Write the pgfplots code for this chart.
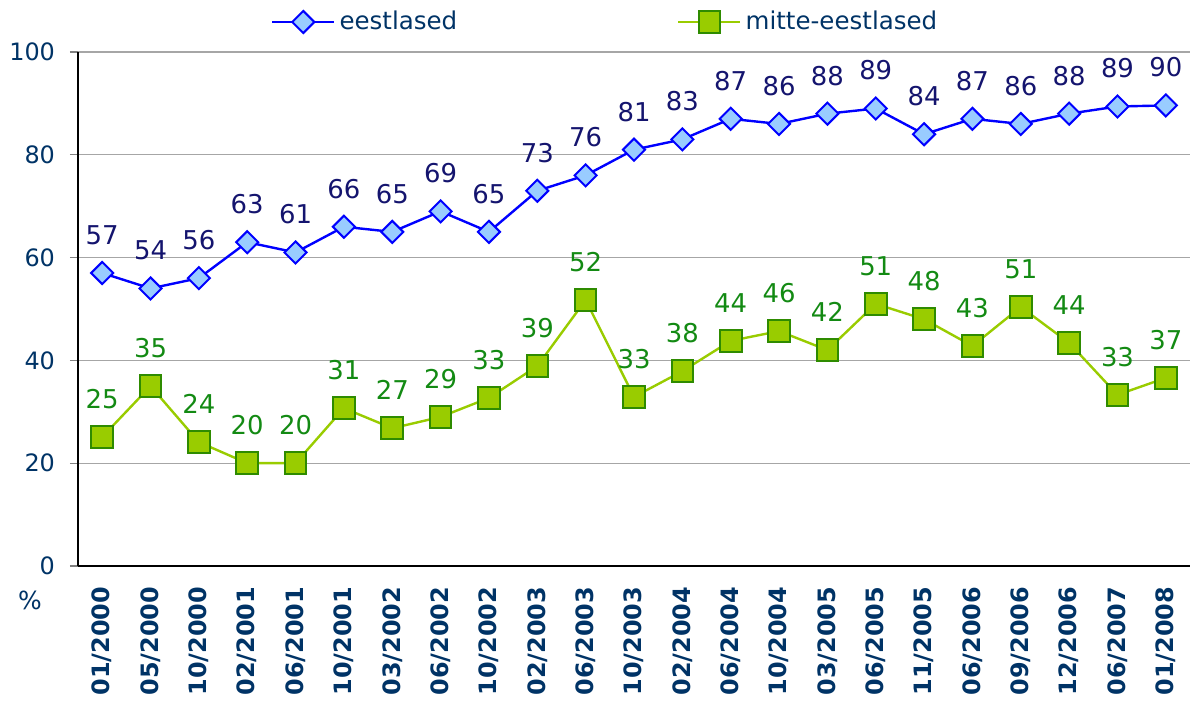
\documentclass[border=0pt]{standalone}
\usepackage{fontspec}
\setmainfont{DejaVu Sans}
\usepackage{pgfplots}
\pgfplotsset{compat=1.18}
\definecolor{txt}{HTML}{003366}
\definecolor{bline}{HTML}{0000FF}
\definecolor{bfill}{HTML}{99CCFF}
\definecolor{blab}{HTML}{14146E}
\definecolor{gline}{HTML}{99CC00}
\definecolor{gedge}{HTML}{2E8B00}
\definecolor{glab}{HTML}{138A13}
\definecolor{gridc}{HTML}{A6A6A6}

\begin{document}
\begin{tikzpicture}
\begin{axis}[
    scale only axis,
    width=556bp, height=257bp,
    xmin=-0.5, xmax=22.5,
    ymin=0, ymax=100,
    ytick={0,20,...,100},
    xtick={0,...,22},
    xticklabels={01/2000,05/2000,10/2000,02/2001,06/2001,10/2001,03/2002,06/2002,10/2002,02/2003,06/2003,10/2003,02/2004,06/2004,10/2004,03/2005,06/2005,11/2005,06/2006,09/2006,12/2006,06/2007,01/2008},
    x tick label style={rotate=90, anchor=east, font=\fontsize{12}{14}\selectfont\bfseries, text=txt},
    xticklabel shift=3bp,
    xtick style={draw=none},
    extra x ticks={-0.5,0.5,...,22.5},
    extra x tick labels={},
    extra x tick style={major tick length=3.5bp, tick style={draw=black, line width=0.6bp}, grid=none},
    y tick label style={font=\fontsize{12}{14}\selectfont, text=txt, xshift=-4bp},
    /pgf/number format/assume math mode=true,
    ytick style={draw=gray, line width=0.6bp},
    tick align=outside,
    major tick length=4bp,
    axis x line*=bottom, axis y line*=left,
    axis line style={-, black, line width=0.7bp},
    ymajorgrids, grid style={gridc, line width=0.6bp},
    clip=false,
    legend columns=2,
    legend style={draw=none, fill=none, at={(0.475,1)}, anchor=center, yshift=15bp,
        font=\fontsize{12.3}{14}\selectfont, text=txt,
        /tikz/every even column/.append style={column sep=108bp}},
    legend image code/.code={\draw[mark repeat=2, mark phase=2] plot coordinates {(0bp,0bp) (15.5bp,0bp) (31bp,0bp)};},
    nodes near coords,
    point meta=explicit symbolic,
    every node near coord/.append style={anchor=center, yshift=19bp, font=\fontsize{13}{15}\selectfont},
]
\addplot[bline, line width=1.2bp, mark=square*, mark size=3.9bp,
    mark options={rotate=45, fill=bfill, draw=bline, line width=1bp},
    every node near coord/.append style={text=blab}]
coordinates {
(0,57)[57] (1,54)[54] (2,56)[56] (3,63)[63] (4,61)[61] (5,66)[66]
(6,65)[65] (7,69)[69] (8,65)[65] (9,73)[73] (10,76)[76] (11,81)[81]
(12,83)[83] (13,87)[87] (14,86)[86] (15,88)[88] (16,89)[89] (17,84)[84]
(18,87)[87] (19,86)[86] (20,88)[88] (21,89.4)[89] (22,89.6)[90]
};
\addlegendentry{eestlased}
\addplot[gline, line width=1.2bp, mark=square*, mark size=5.4bp,
    mark options={fill=gline, draw=gedge, line width=1bp},
    every node near coord/.append style={text=glab}]
coordinates {
(0,25.1)[25] (1,35)[35] (2,24.1)[24] (3,20)[20] (4,20)[20] (5,30.7)[31]
(6,26.8)[27] (7,29)[29] (8,32.7)[33] (9,38.9)[39] (10,51.75)[52] (11,32.9)[33]
(12,37.9)[38] (13,43.8)[44] (14,45.7)[46] (15,42)[42] (16,51)[51] (17,48)[48]
(18,42.8)[43] (19,50.4)[51] (20,43.4)[44] (21,33.3)[33] (22,36.6)[37]
};
\addlegendentry{mitte-eestlased}
\node[text=txt, font=\fontsize{12.5}{14}\selectfont] at (rel axis cs:0,0) [xshift=-24bp, yshift=-17bp] {\%};
\end{axis}
\pgfresetboundingbox
\path (current axis.south west) ++(-39bp,-67.5bp) rectangle ++(595.5bp,350.5bp);
\end{tikzpicture}
\end{document}
